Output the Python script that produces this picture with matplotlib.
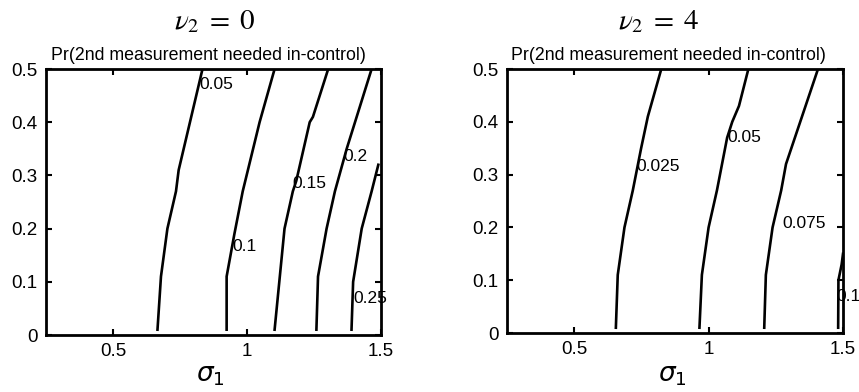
import matplotlib
matplotlib.use("Agg")
import matplotlib.pyplot as plt

# ---------------- data ----------------
# Left panel: nu_2 = 0, contour levels and their polylines (sigma_1, y)
left_levels = ["0.05", "0.1", "0.15", "0.2", "0.25"]
left_005_x = [0.666, 0.679, 0.703, 0.735, 0.745, 0.834]
left_005_y = [0.01, 0.11, 0.20, 0.27, 0.31, 0.50]
left_010_x = [0.924, 0.924, 0.953, 0.984, 1.047, 1.103]
left_010_y = [0.01, 0.11, 0.19, 0.27, 0.40, 0.50]
left_015_x = [1.103, 1.140, 1.171, 1.184, 1.234, 1.246, 1.303]
left_015_y = [0.01, 0.20, 0.27, 0.29, 0.40, 0.41, 0.50]
left_020_x = [1.259, 1.265, 1.297, 1.328, 1.372, 1.465]
left_020_y = [0.01, 0.11, 0.20, 0.27, 0.35, 0.50]
left_025_x = [1.390, 1.396, 1.428, 1.465, 1.490]
left_025_y = [0.01, 0.10, 0.20, 0.27, 0.32]
left_label_x = [0.822, 0.947, 1.171, 1.359, 1.396]
left_label_y = [0.470, 0.166, 0.285, 0.335, 0.069]

# Right panel: nu_2 = 4
right_levels = ["0.025", "0.05", "0.075", "0.1"]
right_0025_x = [0.655, 0.662, 0.687, 0.718, 0.749, 0.774, 0.824]
right_0025_y = [0.01, 0.11, 0.20, 0.27, 0.35, 0.41, 0.50]
right_0050_x = [0.966, 0.975, 1.000, 1.031, 1.069, 1.088, 1.113, 1.148]
right_0050_y = [0.01, 0.11, 0.20, 0.27, 0.37, 0.40, 0.43, 0.50]
right_0075_x = [1.207, 1.213, 1.238, 1.270, 1.288, 1.407]
right_0075_y = [0.01, 0.11, 0.20, 0.27, 0.32, 0.50]
right_0100_x = [1.482, 1.483, 1.495, 1.500]
right_0100_y = [0.01, 0.10, 0.13, 0.15]
right_label_x = [0.730, 1.069, 1.276, 1.474]
right_label_y = [0.315, 0.371, 0.208, 0.069]

x_ticks = [0.5, 1.0, 1.5]
x_ticklabels = ["0.5", "1", "1.5"]
y_ticks = [0, 0.1, 0.2, 0.3, 0.4, 0.5]
y_ticklabels = ["0", "0.1", "0.2", "0.3", "0.4", "0.5"]

panel_titles = [r"$\nu_2\;=\;0$", r"$\nu_2\;=\;4$"]
subtitle = "Pr(2nd measurement needed in-control)"
x_label = r"$\sigma_1$"

# ---------------- figure ----------------
plt.rcParams["font.family"] = ["Liberation Sans", "DejaVu Sans"]
plt.rcParams["mathtext.fontset"] = "stix"

W, H = 859, 392
fig = plt.figure(figsize=(W / 100, H / 100), dpi=100)


def fx(px):
    return px / W


def fy(py):
    return 1 - py / H


axL = fig.add_axes([fx(46), fy(335), fx(381) - fx(46), fy(69) - fy(335)])
axR = fig.add_axes([fx(507), fy(333), fx(843) - fx(507), fy(69) - fy(333)])

left_lines = [(left_005_x, left_005_y), (left_010_x, left_010_y),
              (left_015_x, left_015_y), (left_020_x, left_020_y),
              (left_025_x, left_025_y)]
right_lines = [(right_0025_x, right_0025_y), (right_0050_x, right_0050_y),
               (right_0075_x, right_0075_y), (right_0100_x, right_0100_y)]

for ax, lines, levels, lx, ly in [
    (axL, left_lines, left_levels, left_label_x, left_label_y),
    (axR, right_lines, right_levels, right_label_x, right_label_y),
]:
    for (xs, ys) in lines:
        ax.plot(xs, ys, color="black", lw=1.9, solid_joinstyle="miter")
    for t, x, y in zip(levels, lx, ly):
        ax.text(x, y, t, ha="left", va="center", fontsize=12.5, color="black",
                clip_on=False)
    ax.set_xlim(0.25, 1.5)
    ax.set_ylim(0, 0.5)
    ax.set_xticks(x_ticks)
    ax.set_xticklabels(x_ticklabels)
    ax.set_yticks(y_ticks)
    ax.set_yticklabels(y_ticklabels)
    ax.tick_params(direction="in", length=4, width=1.5, top=True, right=True,
                   labelsize=13.5, pad=6)
    for s in ax.spines.values():
        s.set_linewidth(2.0)

# titles, subtitles, x labels
fig.text(fx(215), fy(21), panel_titles[0], ha="center", va="center", fontsize=21)
fig.text(fx(658), fy(21), panel_titles[1], ha="center", va="center", fontsize=21)
fig.text(fx(208), fy(55), subtitle, ha="center", va="center", fontsize=12.8)
fig.text(fx(668), fy(55), subtitle, ha="center", va="center", fontsize=12.8)
fig.text(fx(210), fy(376), x_label, ha="center", va="center", fontsize=19,
         math_fontfamily="dejavusans")
fig.text(fx(672), fy(376), x_label, ha="center", va="center", fontsize=19,
         math_fontfamily="dejavusans")

fig.savefig("out.png", dpi=100)
